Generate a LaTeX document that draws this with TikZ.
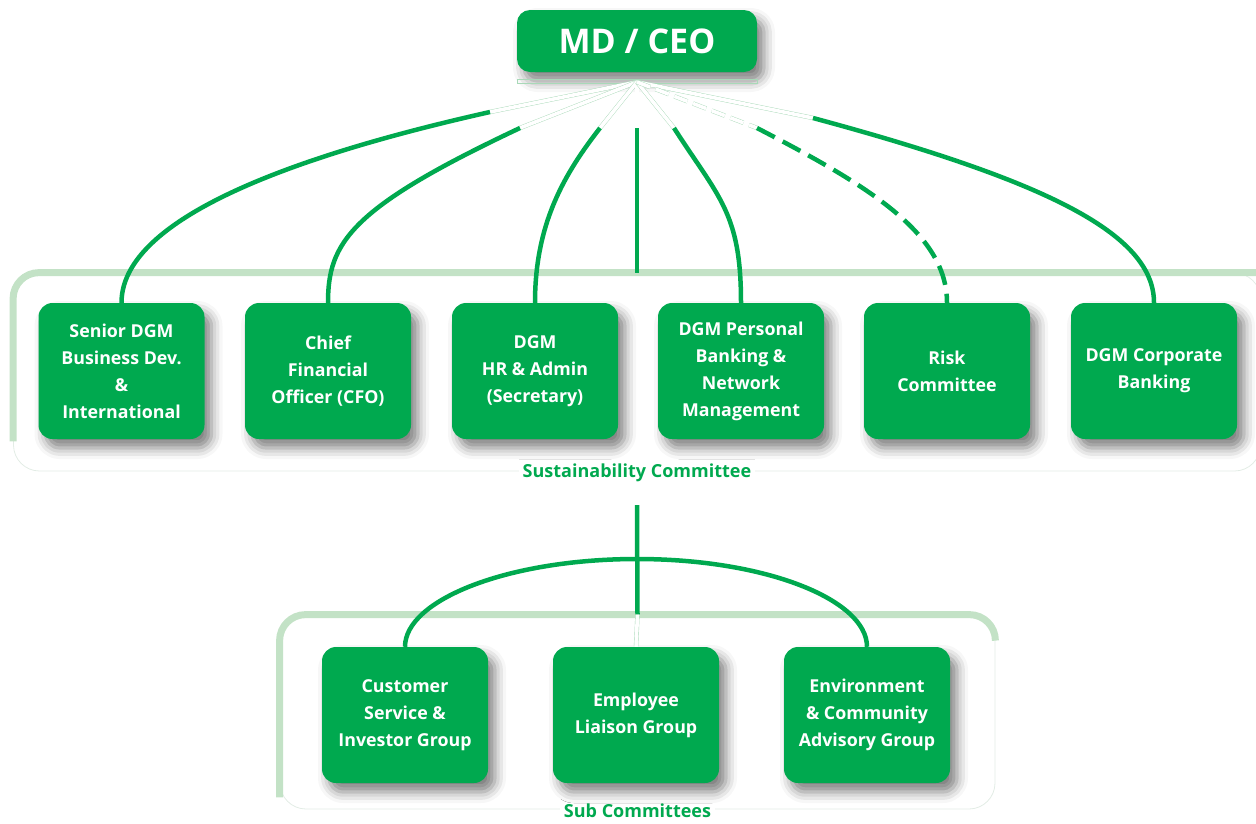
\documentclass[tikz,border=0pt]{standalone}
\usepackage{fontspec}
\setmainfont{Open Sans}
\usepackage{tikz}
\usetikzlibrary{shadows.blur}
\definecolor{bankgreen}{HTML}{00A94F}
\definecolor{bandgreen}{HTML}{C3E2C6}
\definecolor{framegray}{HTML}{E2ECE5}
\definecolor{faintgreen}{HTML}{A8D9B8}

\begin{document}
\begin{tikzpicture}[x=1pt, y=1pt,
    unitbox/.style={rectangle, rounded corners=14pt, fill=bankgreen, text=white, align=center,
        font=\fontsize{17.8}{27}\selectfont\bfseries, minimum width=166pt, minimum height=136pt, inner sep=0pt,
        blur shadow={shadow xshift=7pt, shadow yshift=-9pt, shadow blur radius=11pt, shadow opacity=50}},
    link/.style={draw=bankgreen, line width=4.5pt},
    ghost/.style={draw=faintgreen, line width=0.4pt, double=white, double distance=3.6pt},
    boxframe/.style={draw=framegray, line width=0.8pt, rounded corners=26pt, inner sep=0pt},
    bandline/.style={draw=bandgreen, line width=7pt, rounded corners=26pt},
    caption/.style={text=bankgreen, fill=white, inner sep=4pt, font=\fontsize{18}{22}\selectfont\bfseries}]
    \useasboundingbox (0,0) rectangle (1256,-823);

    % frames round the two rows
    \node[boxframe, minimum width=1247pt, minimum height=198pt] (sus) at (637,-372) {};
    \draw[bandline] ([yshift=30pt]sus.south west) |- (sus.north east);
    \node[boxframe, minimum width=715pt, minimum height=194pt] (sub) at (637.5,-712) {};
    \draw[bandline] ([yshift=12pt]sub.south west) |- (sub.north east) -- ([yshift=-26pt]sub.north east);
    \node[caption] (suslabel) at ([yshift=-1pt]sus.south) {Sustainability Committee};
    \node[caption] (sublabel) at ([yshift=-1pt]sub.south) {Sub Committees};

    % boxes
    \node[unitbox, minimum width=240pt, minimum height=62pt, rounded corners=13pt,
        font=\fontsize{34}{38}\selectfont\bfseries] (ceo) at (637,-41) {MD / CEO};
    \node[unitbox] (b1) at (121.5,-371) {Senior DGM\\Business Dev.\\\&\\International};
    \node[unitbox] (b2) at (328,-371) {Chief\\Financial\\Officer (CFO)};
    \node[unitbox] (b3) at (535,-371) {DGM\\HR \& Admin\\(Secretary)};
    \node[unitbox] (b4) at (741,-371) {DGM Personal\\Banking \&\\Network\\Management};
    \node[unitbox] (b5) at (947,-371) {Risk\\Committee};
    \node[unitbox] (b6) at (1154,-371) {DGM Corporate\\Banking};
    \node[unitbox] (g1) at (405,-715) {Customer\\Service \&\\Investor Group};
    \node[unitbox] (g2) at (636,-715) {Employee\\Liaison Group};
    \node[unitbox] (g3) at (867,-715) {Environment\\\& Community\\Advisory Group};

    % fan of lines under the CEO
    \coordinate (fan) at (637,-82);
    \coordinate (s1) at (490,-112);
    \coordinate (s2) at (520,-128);
    \coordinate (s3) at (600,-128);
    \coordinate (s4) at (637,-128);
    \coordinate (s5) at (674,-128);
    \coordinate (s6) at (757,-128);
    \coordinate (s7) at (813,-118);
    \draw[faintgreen, line width=0.4pt] ([yshift=-7pt]ceo.south west) rectangle ([yshift=-11pt]ceo.south east);
    \foreach \s in {s1,s2,s3,s4,s5,s7}
        \draw[ghost] (fan) -- (\s);
    \draw[ghost, dash pattern=on 14pt off 6pt] (fan) -- (s6);

    \draw[link] (s1) .. controls +(-250,-56) and +(0,70) .. (b1.north);
    \draw[link] (s2) .. controls +(-170,-80) and +(0,60) .. (b2.north);
    \draw[link] (s3) .. controls +(-35,-45) and +(0,80) .. (b3.north);
    \draw[link] (s4) -- (sus.north);
    \draw[link] (s5) .. controls +(45,-70) and +(0,90) .. (b4.north);
    \draw[link, dash pattern=on 20pt off 9pt] (s6) .. controls +(110,-57) and +(0,70) .. (b5.north);
    \draw[link] (s7) .. controls +(230,-62) and +(0,70) .. (b6.north);

    % sub committees
    \coordinate (subroot) at (637,-505);
    \coordinate (split) at (637,-559);
    \draw[link] (subroot) -- (sub.north);
    \draw[ghost] (sub.north) -- (g2.north);
    \draw[link] (split) .. controls +(-129,0) and +(0,47) .. (g1.north);
    \draw[link] (split) .. controls +(129,0) and +(0,47) .. (g3.north);
\end{tikzpicture}
\end{document}
